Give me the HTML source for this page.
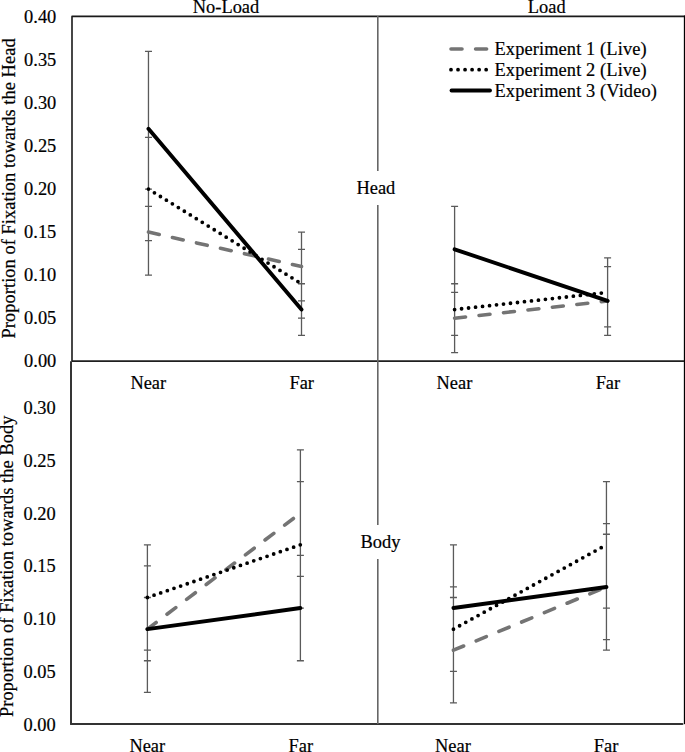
<!DOCTYPE html>
<html><head><meta charset="utf-8"><style>
html,body{margin:0;padding:0;background:#fff;overflow:hidden;}
svg{display:block;}
text{font-family:"Liberation Serif", serif;font-size:18.4px;fill:#000;stroke:#000;stroke-width:0.2px;}
</style></head><body>
<svg width="685" height="752" viewBox="0 0 685 752">
<rect width="685" height="752" fill="#fff"/>
<path d="M72 361 L72 16.4 L684.5 16.4" fill="none" stroke="#1a1a1a" stroke-width="1.6" stroke-linejoin="round"/>
<line x1="684.5" y1="16" x2="684.5" y2="723.5" stroke="#000" stroke-width="1.3" stroke-linecap="round"/>
<path d="M72 361 L72 361.1 L684 361.1" fill="none" stroke="#1f1f1f" stroke-width="1.7" stroke-linejoin="round"/>
<line x1="71" y1="362" x2="71" y2="724" stroke="#353535" stroke-width="2" stroke-linecap="round"/>
<line x1="71" y1="724" x2="682.5" y2="724" stroke="#333" stroke-width="2" stroke-linecap="round"/>
<line x1="377.8" y1="16" x2="377.8" y2="724" stroke="#666" stroke-width="1.6"/>
<path d="M148.47 189.08V275.14M144.97 189.08H151.97M144.97 275.14H151.97M301.5 232.11V300.96M298 232.11H305M298 300.96H305M148.47 137.44V240.72M144.97 137.44H151.97M144.97 240.72H151.97M301.5 249.32V318.17M298 249.32H305M298 318.17H305M148.47 51.38V206.29M144.97 51.38H151.97M144.97 206.29H151.97M301.5 283.75V335.38M298 283.75H305M298 335.38H305" fill="none" stroke="#5a5a5a" stroke-width="1.3"/>
<line x1="148.47" y1="232.11" x2="301.5" y2="266.53" stroke="#747474" stroke-width="3.6" stroke-linecap="round" stroke-dasharray="11 13.6"/>
<line x1="148.47" y1="189.08" x2="301.5" y2="283.75" stroke="#000" stroke-width="3.8" stroke-linecap="round" stroke-dasharray="0 7.03"/>
<line x1="148.47" y1="128.84" x2="301.5" y2="309.56" stroke="#000" stroke-width="3.9" stroke-linecap="round"/>
<path d="M454.6 283.75V352.59M451.1 283.75H458.1M451.1 352.59H458.1M607.6 266.53V335.38M604.1 266.53H611.1M604.1 335.38H611.1M454.6 283.75V335.38M451.1 283.75H458.1M451.1 335.38H458.1M607.6 257.93V326.78M604.1 257.93H611.1M604.1 326.78H611.1M454.6 206.29V292.35M451.1 206.29H458.1M451.1 292.35H458.1M607.6 266.53V335.38M604.1 266.53H611.1M604.1 335.38H611.1" fill="none" stroke="#5a5a5a" stroke-width="1.3"/>
<line x1="454.6" y1="318.17" x2="607.6" y2="300.96" stroke="#747474" stroke-width="3.6" stroke-linecap="round" stroke-dasharray="11 13.6"/>
<line x1="454.6" y1="309.56" x2="607.6" y2="292.35" stroke="#000" stroke-width="3.8" stroke-linecap="round" stroke-dasharray="0 7.03"/>
<line x1="454.6" y1="249.32" x2="607.6" y2="300.96" stroke="#000" stroke-width="3.9" stroke-linecap="round"/>
<path d="M147.4 597.51V660.75M143.9 597.51H150.9M143.9 660.75H150.9M300.4 449.93V576.43M296.9 449.93H303.9M296.9 576.43H303.9M147.4 544.8V650.21M143.9 544.8H150.9M143.9 650.21H150.9M300.4 481.56V608.05M296.9 481.56H303.9M296.9 608.05H303.9M147.4 565.88V692.38M143.9 565.88H150.9M143.9 692.38H150.9M300.4 555.34V660.75M296.9 555.34H303.9M296.9 660.75H303.9" fill="none" stroke="#5a5a5a" stroke-width="1.3"/>
<line x1="147.4" y1="629.13" x2="300.4" y2="513.18" stroke="#747474" stroke-width="3.6" stroke-linecap="round" stroke-dasharray="11 13.6"/>
<line x1="147.4" y1="597.51" x2="300.4" y2="544.8" stroke="#000" stroke-width="3.8" stroke-linecap="round" stroke-dasharray="0 7.03"/>
<line x1="147.4" y1="629.13" x2="300.4" y2="608.05" stroke="#000" stroke-width="3.9" stroke-linecap="round"/>
<path d="M453.45 597.51V702.92M449.95 597.51H456.95M449.95 702.92H456.95M606.45 534.26V639.67M602.95 534.26H609.95M602.95 639.67H609.95M453.45 586.97V671.29M449.95 586.97H456.95M449.95 671.29H456.95M606.45 481.56V608.05M602.95 481.56H609.95M602.95 608.05H609.95M453.45 544.8V671.29M449.95 544.8H456.95M449.95 671.29H456.95M606.45 523.72V650.21M602.95 523.72H609.95M602.95 650.21H609.95" fill="none" stroke="#5a5a5a" stroke-width="1.3"/>
<line x1="453.45" y1="650.21" x2="606.45" y2="586.97" stroke="#747474" stroke-width="3.6" stroke-linecap="round" stroke-dasharray="11 13.6"/>
<line x1="453.45" y1="629.13" x2="606.45" y2="544.8" stroke="#000" stroke-width="3.8" stroke-linecap="round" stroke-dasharray="0 7.03"/>
<line x1="453.45" y1="608.05" x2="606.45" y2="586.97" stroke="#000" stroke-width="3.9" stroke-linecap="round"/>
<rect x="352" y="171" width="48" height="34" fill="#fff"/>
<rect x="356" y="525" width="50" height="34" fill="#fff"/>
<line x1="451" y1="49" x2="489" y2="49" stroke="#747474" stroke-width="3.6" stroke-linecap="round" stroke-dasharray="11 13.6"/>
<line x1="451" y1="69.7" x2="489" y2="69.7" stroke="#000" stroke-width="3.8" stroke-linecap="round" stroke-dasharray="0 7.03"/>
<line x1="451.5" y1="90.5" x2="490" y2="90.5" stroke="#000" stroke-width="3.8" stroke-linecap="round"/>
<text x="226" y="12.8" text-anchor="middle">No-Load</text>
<text x="546.7" y="12.8" text-anchor="middle">Load</text>
<text x="356.5" y="193.7" text-anchor="start">Head</text>
<text x="360.5" y="547.6" text-anchor="start">Body</text>
<text x="148.3" y="389.1" text-anchor="middle">Near</text>
<text x="301.7" y="389.1" text-anchor="middle">Far</text>
<text x="454.4" y="389.1" text-anchor="middle">Near</text>
<text x="607.9" y="389.1" text-anchor="middle">Far</text>
<text x="147.3" y="752.1" text-anchor="middle">Near</text>
<text x="300.8" y="752.1" text-anchor="middle">Far</text>
<text x="452.9" y="752.1" text-anchor="middle">Near</text>
<text x="606.1" y="752.1" text-anchor="middle">Far</text>
<text x="56.3" y="367.4" text-anchor="end">0.00</text>
<text x="56.3" y="324.37" text-anchor="end">0.05</text>
<text x="56.3" y="281.34" text-anchor="end">0.10</text>
<text x="56.3" y="238.31" text-anchor="end">0.15</text>
<text x="56.3" y="195.28" text-anchor="end">0.20</text>
<text x="56.3" y="152.25" text-anchor="end">0.25</text>
<text x="56.3" y="109.22" text-anchor="end">0.30</text>
<text x="56.3" y="66.19" text-anchor="end">0.35</text>
<text x="56.3" y="23.16" text-anchor="end">0.40</text>
<text x="55.7" y="730.6" text-anchor="end">0.00</text>
<text x="55.7" y="677.89" text-anchor="end">0.05</text>
<text x="55.7" y="625.19" text-anchor="end">0.10</text>
<text x="55.7" y="572.49" text-anchor="end">0.15</text>
<text x="55.7" y="519.78" text-anchor="end">0.20</text>
<text x="55.7" y="467.08" text-anchor="end">0.25</text>
<text x="55.7" y="414.37" text-anchor="end">0.30</text>
<text x="494.5" y="54.7" text-anchor="start" letter-spacing="0.11">Experiment 1 (Live)</text>
<text x="494.5" y="75.7" text-anchor="start" letter-spacing="0.11">Experiment 2 (Live)</text>
<text x="494.5" y="96.7" text-anchor="start" letter-spacing="0.11">Experiment 3 (Video)</text>
<text transform="translate(14.9,188.4) rotate(-90)" text-anchor="middle" letter-spacing="0.06">Proportion of Fixation towards the Head</text>
<text transform="translate(13.3,566.2) rotate(-90)" text-anchor="middle" letter-spacing="0.07">Proportion of Fixation towards the Body</text>
</svg>
</body></html>
